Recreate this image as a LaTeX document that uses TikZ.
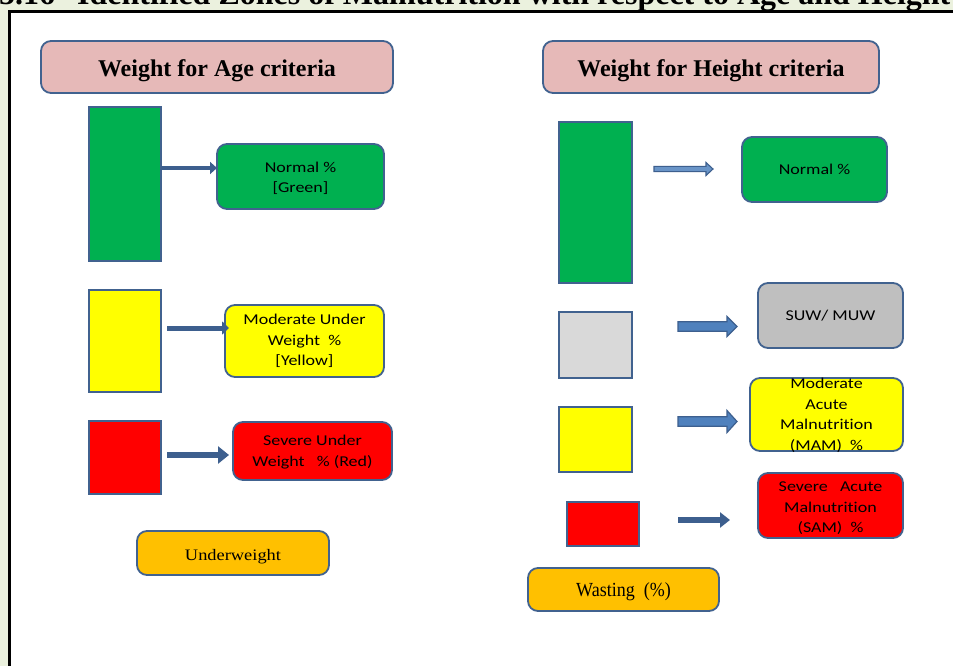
\documentclass[tikz,border=0pt]{standalone}
\usepackage{fontspec}
\setmainfont{Liberation Serif}
\newfontfamily\calfont[FakeStretch=1.2,Ligatures=NoCommon]{Carlito}
\newfontfamily\serfont{Liberation Serif}
\newfontfamily\serwide[FakeStretch=1.15]{Liberation Serif}
\newfontfamily\sernarrow[FakeStretch=0.9]{Liberation Serif}
\usetikzlibrary{arrows.meta,calc}
\definecolor{bggreen}{HTML}{EBF1DE}
\definecolor{edge}{HTML}{41628F}
\definecolor{hdr}{HTML}{E6B9B8}
\definecolor{zgreen}{HTML}{00B050}
\definecolor{zyellow}{HTML}{FFFF00}
\definecolor{zred}{HTML}{FF0000}
\definecolor{zgrayl}{HTML}{D9D9D9}
\definecolor{zgray}{HTML}{BFBFBF}
\definecolor{zorange}{HTML}{FFC000}
\definecolor{arrowfill}{HTML}{4F81BD}
\definecolor{arrowdark}{HTML}{3D5F8E}
\newcommand{\lowertext}[2]{\raisebox{-#1}[\height][\depth]{\begin{tabular}{@{}c@{}}#2\end{tabular}}}
\begin{document}
\begin{tikzpicture}[x=1pt,y=-1pt,
  zone/.style={draw=edge,line width=1.8pt,inner sep=0pt},
  rbox/.style={draw=edge,line width=1.8pt,rounded corners=10pt,inner sep=0pt,align=center,
    font=\calfont\fontsize{15}{20.5}\selectfont},
  hbox/.style={rbox,fill=hdr,font=\serfont\bfseries\fontsize{24}{28}\selectfont},
  solidarr/.style n args={3}{draw=arrowdark,line width=#1,-{Triangle[length=#2,width=#3]}},
  barrow/.style n args={3}{to path={let \p1=(\tikztostart),\p2=(\tikztotarget) in
    (\x1,\y1+#1) -- (\x2-#3,\y1+#1) -- (\x2-#3,\y1+#2) -- (\x2,\y1) -- (\x2-#3,\y1-#2)
    -- (\x2-#3,\y1-#1) -- (\x1,\y1-#1) -- cycle}},
  blockarr/.style={fill=arrowfill,draw=arrowdark,line width=1.2pt}
]
\useasboundingbox (0,0) rectangle (953,666);
\clip (0,0) rectangle (953,666);
\fill[bggreen] (0,0) rectangle (953,666);
% title (cut off at the top)
\node[anchor=base west,inner sep=0pt,font=\serfont\bfseries\fontsize{32}{36}\selectfont] (title) at (-1,5)
  {5.16\hspace{22pt}Identified Zones of Malnutrition with respect to Age and Height};
% frame
\draw[line width=3.3pt,fill=white] (9.2,11.7) rectangle (1000,720);

% ---------- left: weight for age ----------
\node[hbox,minimum width=352pt,minimum height=52pt] (hA) at (217,67) {\lowertext{4pt}{Weight for Age criteria}};
\node[zone,fill=zgreen,minimum width=72pt,minimum height=154pt] (gA) at (125,184) {};
\node[zone,fill=zyellow,minimum width=72pt,minimum height=102pt] (yA) at (125,341) {};
\node[zone,fill=zred,minimum width=72pt,minimum height=73pt] (rA) at (125,457.5) {};
\node[rbox,fill=zgreen,minimum width=167pt,minimum height=65pt] (nA) at (300.5,176.5) {\lowertext{2pt}{Normal \%\\{}[Green]}};
\node[rbox,fill=zyellow,minimum width=159pt,minimum height=72pt] (mA) at (304.5,341) {\lowertext{0pt}{Moderate Under\\Weight\ \ \%\\{}[Yellow]}};
\node[rbox,fill=zred,minimum width=159pt,minimum height=58pt] (sA) at (312.5,451) {\lowertext{1pt}{Severe Under\\Weight\ \ \ \% (Red)}};
\node[rbox,fill=zorange,minimum width=192pt,minimum height=44pt,font=\serwide\fontsize{16}{20}\selectfont] (uA) at (233,553) {\lowertext{3pt}{Underweight}};

\coordinate (a1s) at (161,168); \coordinate (a1e) at (217,168);
\coordinate (a2s) at (167,328); \coordinate (a2e) at (229,328);
\coordinate (a3s) at (167,455); \coordinate (a3e) at (229,455);
\draw[solidarr={4.5pt}{7pt}{12pt}] (a1s) -- (a1e);
\draw[solidarr={5pt}{7pt}{13pt}] (a2s) -- (a2e);
\draw[solidarr={6.5pt}{11pt}{17pt}] (a3s) -- (a3e);

% ---------- right: weight for height ----------
\node[hbox,minimum width=336pt,minimum height=52pt] (hH) at (711,67) {\lowertext{4pt}{Weight for Height criteria}};
\node[zone,fill=zgreen,minimum width=73pt,minimum height=161pt] (gH) at (595.5,202.5) {};
\node[zone,fill=zgrayl,minimum width=73pt,minimum height=66pt] (grH) at (595.5,345) {};
\node[zone,fill=zyellow,minimum width=73pt,minimum height=65pt] (yH) at (595.5,439.5) {};
\node[zone,fill=zred,minimum width=72pt,minimum height=44pt] (rH) at (603,524) {};
\node[rbox,fill=zgreen,minimum width=145pt,minimum height=65pt] (nH) at (814.5,169.5) {Normal \%};
\node[rbox,fill=zgray,minimum width=145pt,minimum height=65pt] (suH) at (830.5,315.5) {SUW/ MUW};
\node[rbox,fill=zyellow,minimum width=153pt,minimum height=73pt] (mH) at (826.5,414.5) {};
\node[inner sep=0pt,align=center,font=\calfont\fontsize{15}{20.5}\selectfont] (mHt) at (826.5,415.5) {Moderate\\Acute\\Malnutrition\\(MAM)\ \ \%};
\node[rbox,fill=zred,minimum width=145pt,minimum height=65pt] (sH) at (830.5,505.5) {\lowertext{2.5pt}{Severe\ \ \ Acute\\Malnutrition\\(SAM)\ \ \%}};
\node[rbox,fill=zorange,minimum width=191pt,minimum height=43pt,font=\sernarrow\fontsize{20}{22}\selectfont] (wH) at (623.5,589.5) {\lowertext{3pt}{Wasting\ \ (\%)}};

\coordinate (b0s) at (654,169); \coordinate (b0e) at (713,169);
\coordinate (b1s) at (678,326.5); \coordinate (b1e) at (737,326.5);
\coordinate (b2s) at (678,421.5); \coordinate (b2e) at (737,421.5);
\coordinate (a4s) at (678,520); \coordinate (a4e) at (730,520);
\draw[blockarr,fill=arrowfill!85,line width=1.1pt,barrow={2.6pt}{6.5pt}{7pt}] (b0s) to (b0e);
\draw[blockarr,barrow={4.8pt}{10pt}{10pt}] (b1s) to (b1e);
\draw[blockarr,barrow={4.8pt}{11pt}{10pt}] (b2s) to (b2e);
\draw[solidarr={6.5pt}{10pt}{15pt}] (a4s) -- (a4e);
\end{tikzpicture}
\end{document}
